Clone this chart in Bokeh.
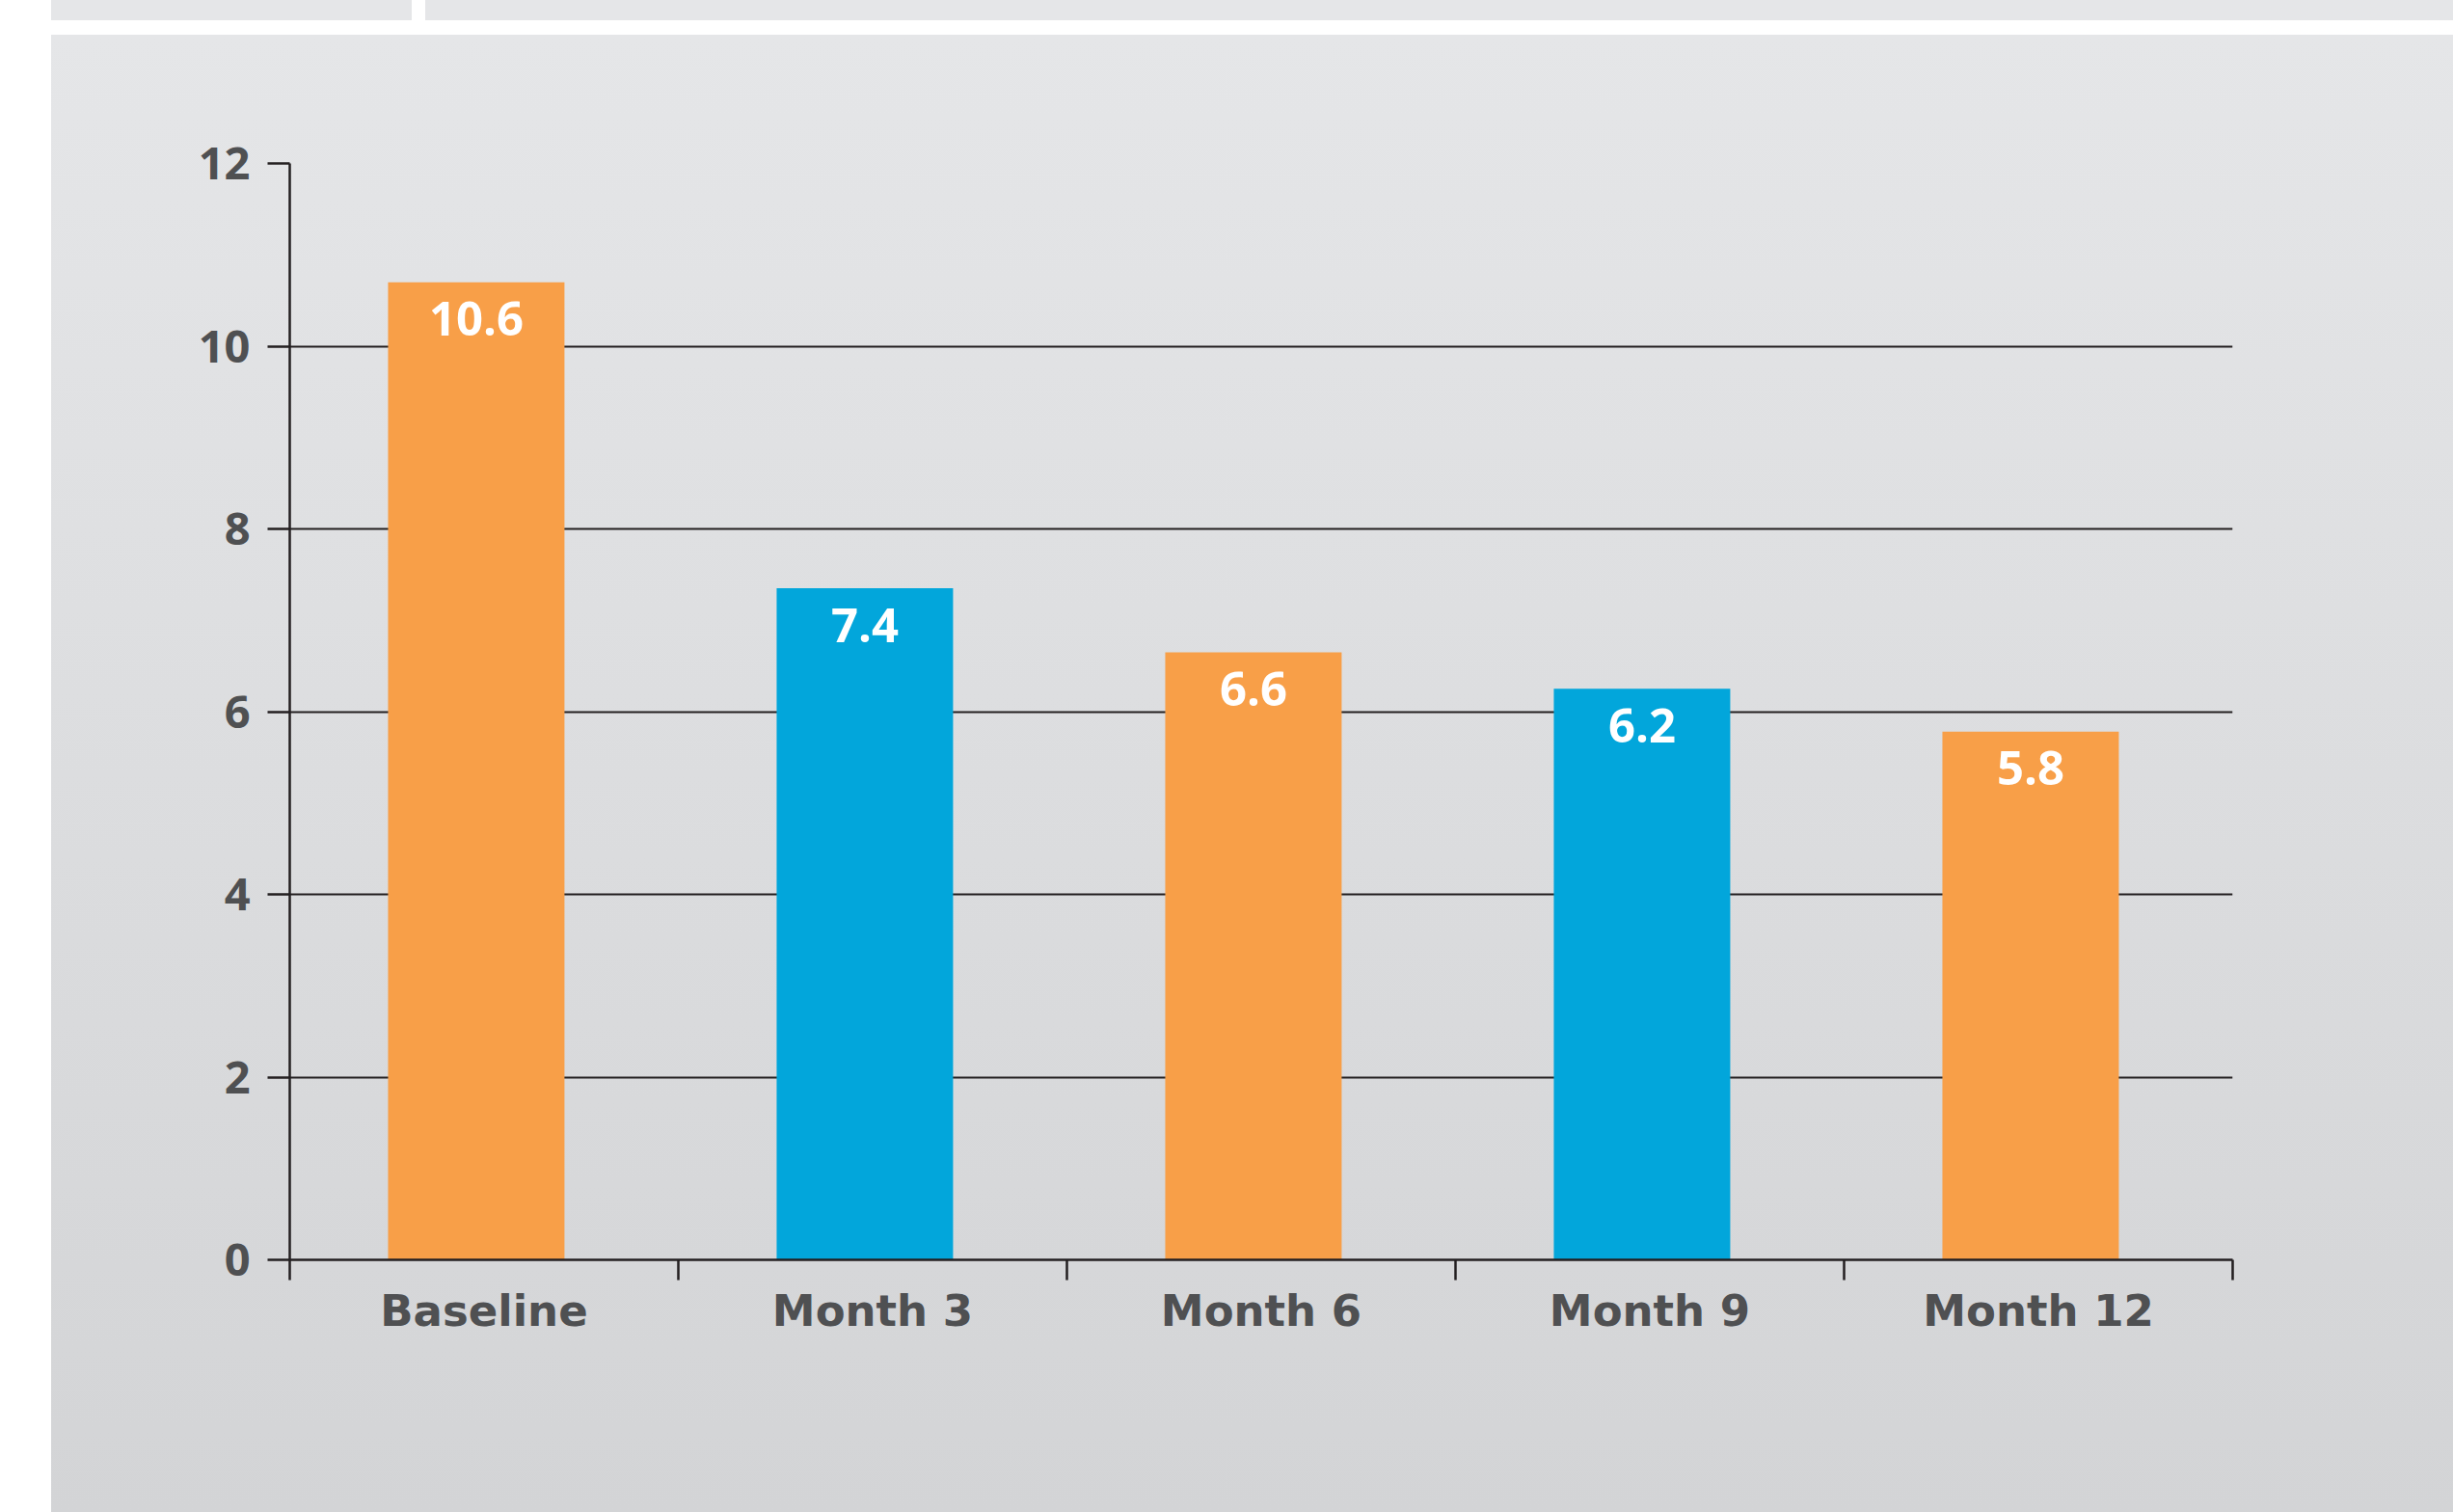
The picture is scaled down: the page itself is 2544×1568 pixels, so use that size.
from bokeh.plotting import figure
from bokeh.models import Range1d, FixedTicker, ColumnDataSource, Div, Spacer
from bokeh.layouts import column, row
from bokeh.core.properties import value
from bokeh.transform import dodge
from bokeh.embed import file_html
from bokeh.resources import INLINE

# ---- data ----
categories = ["Baseline", "Month 3", "Month 6", "Month 9", "Month 12"]
bar_values = [10.7, 7.35, 6.65, 6.25, 5.78]
bar_labels = ["10.6", "7.4", "6.6", "6.2", "5.8"]
bar_colors = ["#F89F48", "#02A6DB", "#F89F48", "#02A6DB", "#F89F48"]
y_ticks = [0, 2, 4, 6, 8, 10, 12]
grid_ticks = [2, 4, 6, 8, 10]

NUM_FONT = "Open Sans"
CAT_FONT = "DejaVu Sans"
LABEL_COLOR = "#4F5052"
LINE_COLOR = "#231F20"

centers = [i + 0.5 for i in range(len(categories))]
boundaries = list(range(len(categories) + 1))

src = ColumnDataSource(dict(x=centers, top=bar_values, label=bar_labels, color=bar_colors))

p = figure(width=2491, height=1532,
           x_range=Range1d(0, len(categories)), y_range=Range1d(0, 12),
           output_backend="svg", toolbar_location=None,
           min_border_left=247, min_border_right=229,
           min_border_top=133, min_border_bottom=262)

p.styles = {"background": "linear-gradient(to bottom, #E5E6E8, #D3D4D6)"}
p.border_fill_color = None
p.background_fill_color = None
p.outline_line_color = None

p.xgrid.visible = False
p.ygrid.ticker = FixedTicker(ticks=grid_ticks)
p.ygrid.grid_line_color = LINE_COLOR
p.ygrid.grid_line_width = 2

bx = dodge("x", -0.02, range=p.x_range)
p.vbar(x=bx, top="top", width=0.454, fill_color="color", line_color=None, source=src)
p.text(x=bx, y="top", text="label", source=src,
       text_color="white", text_font=value(NUM_FONT), text_font_style="bold",
       text_font_size="49px", text_align="center", text_baseline="alphabetic",
       y_offset=38)

# y axis
ya = p.yaxis[0]
ya.ticker = FixedTicker(ticks=y_ticks)
ya.axis_line_color = LINE_COLOR
ya.axis_line_width = 2.5
ya.major_tick_line_color = LINE_COLOR
ya.major_tick_line_width = 2.5
ya.major_tick_out = 23
ya.major_tick_in = 0
ya.minor_tick_line_color = None
ya.major_label_standoff = 18
ya.major_label_text_font = NUM_FONT
ya.major_label_text_font_style = "bold"
ya.major_label_text_font_size = "47px"
ya.major_label_text_color = LABEL_COLOR

# x axis
xa = p.xaxis[0]
xa.ticker = FixedTicker(ticks=centers, minor_ticks=boundaries)
xa.major_label_overrides = {c: name for c, name in zip(centers, categories)}
xa.axis_line_color = LINE_COLOR
xa.axis_line_width = 2.5
xa.major_tick_line_color = None
xa.major_tick_out = 0
xa.major_tick_in = 0
xa.minor_tick_line_color = LINE_COLOR
xa.minor_tick_line_width = 2.5
xa.minor_tick_out = 21
xa.minor_tick_in = 0
xa.major_label_standoff = 5
xa.major_label_text_font = CAT_FONT
xa.major_label_text_font_style = "bold"
xa.major_label_text_font_size = "45px"
xa.major_label_text_color = LABEL_COLOR

strip_style = {"background-color": "#E5E6E8", "margin": "0", "padding": "0"}
top_row = row(Spacer(width=53, height=21),
              Div(text="", width=374, height=21, styles=strip_style),
              Spacer(width=14, height=21),
              Div(text="", width=2103, height=21, styles=strip_style))
layout = column(top_row, Spacer(width=2544, height=15), row(Spacer(width=53, height=1532), p))

open("out.html", "w").write(file_html(layout, INLINE))
